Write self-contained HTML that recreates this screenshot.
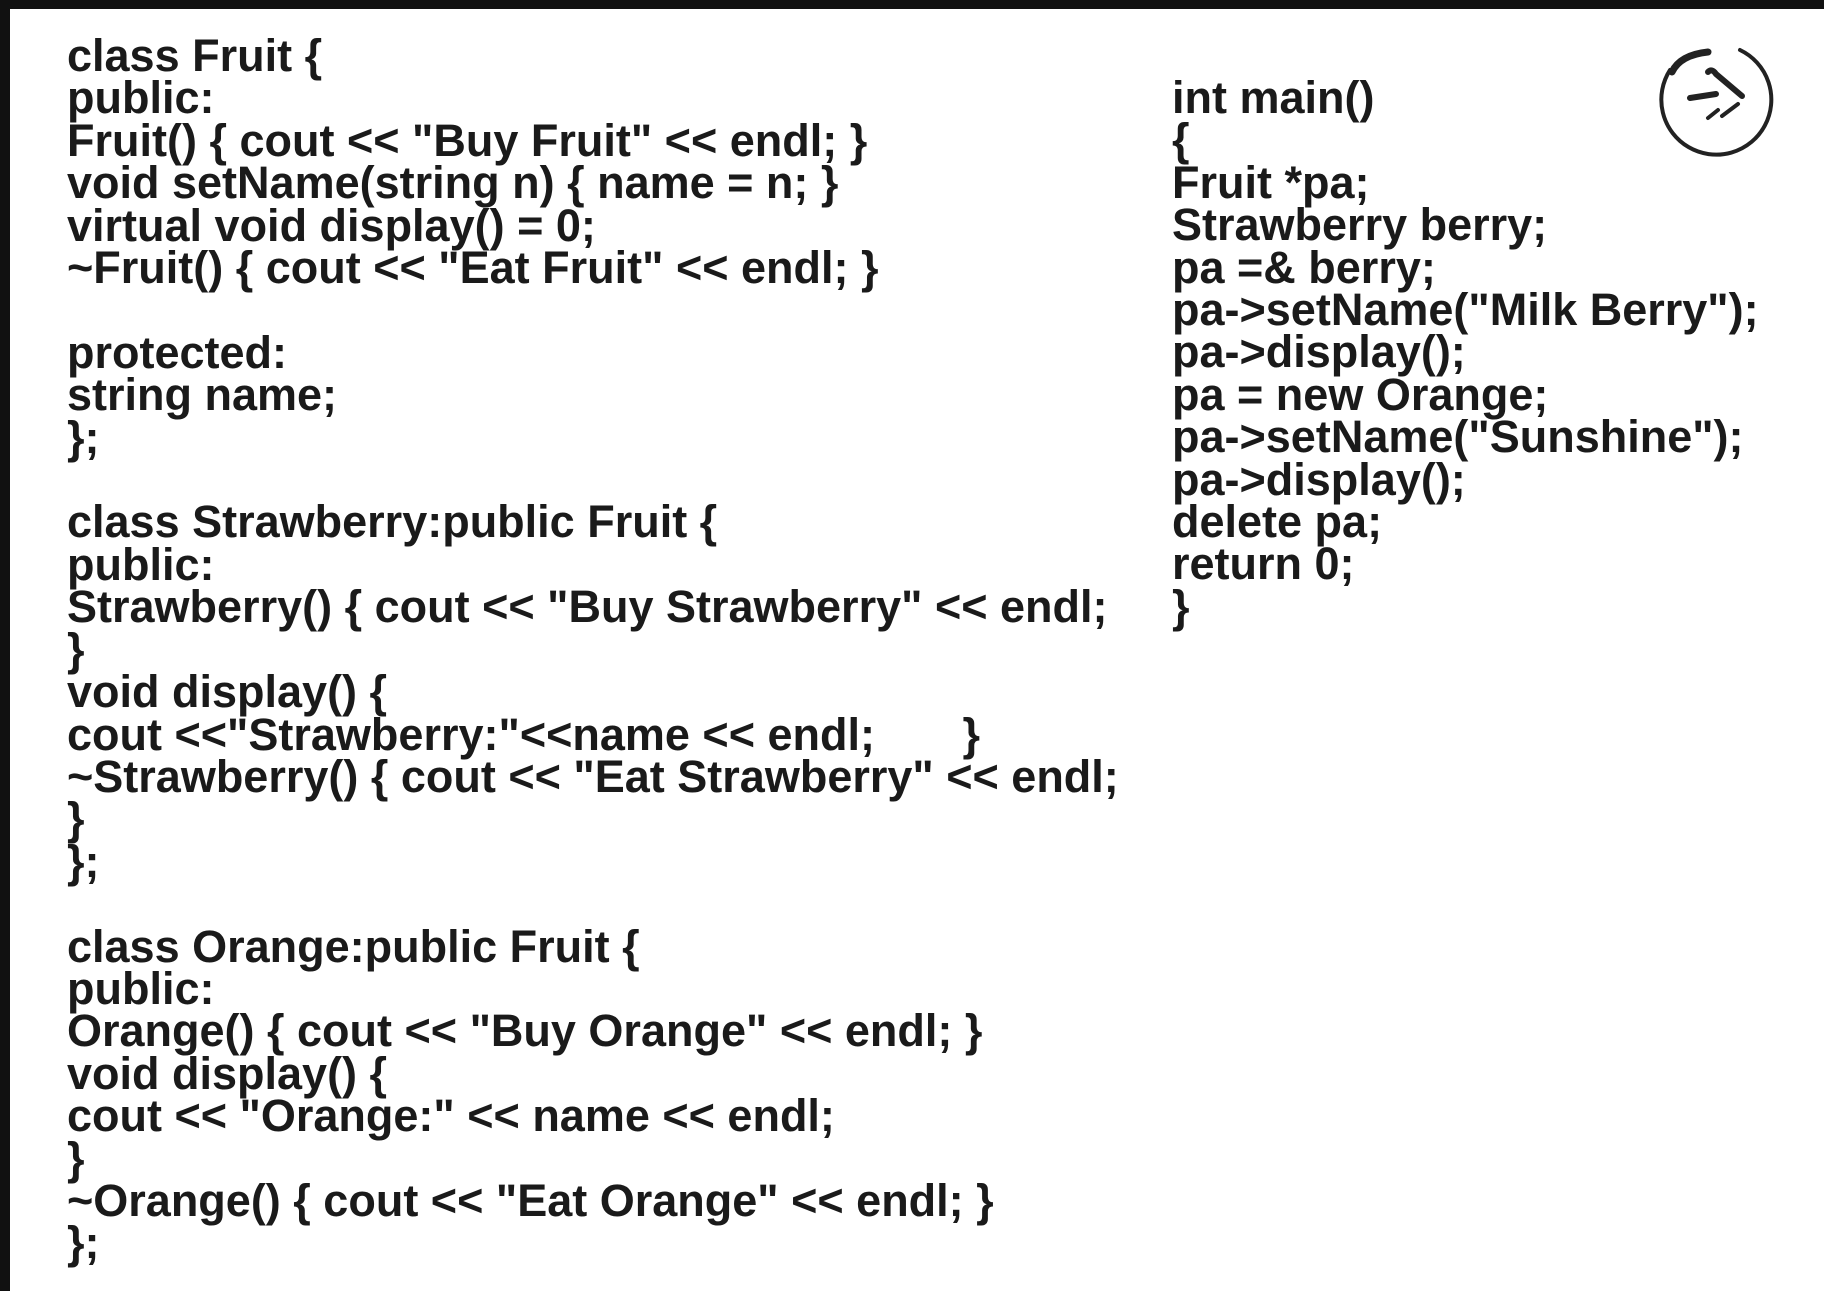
<!DOCTYPE html>
<html><head><meta charset="utf-8"><style>
html,body{margin:0;padding:0;}
body{width:1824px;height:1291px;background:#fff;position:relative;overflow:hidden;}
.bt{position:absolute;left:0;top:0;width:1824px;height:9px;background:#111;}
.bl{position:absolute;left:0;top:0;width:10px;height:1291px;background:#111;}
pre{position:absolute;margin:0;font-family:"Liberation Sans",Arial,sans-serif;font-weight:bold;font-size:45px;line-height:42.4px;color:#1a1a1a;white-space:pre;}
#l{left:67px;top:35px;}
#r{left:1172px;top:77px;}
</style></head><body>
<div class="bt"></div><div class="bl"></div>
<pre id="l">class Fruit {
public:
Fruit() { cout &lt;&lt; "Buy Fruit" &lt;&lt; endl; }
void setName(string n) { name = n; }
virtual void display() = 0;
~Fruit() { cout &lt;&lt; "Eat Fruit" &lt;&lt; endl; }

protected:
string name;
};

class Strawberry:public Fruit {
public:
Strawberry() { cout &lt;&lt; "Buy Strawberry" &lt;&lt; endl;
}
void display() {
cout &lt;&lt;"Strawberry:"&lt;&lt;name &lt;&lt; endl;       }
~Strawberry() { cout &lt;&lt; "Eat Strawberry" &lt;&lt; endl;
}
};

class Orange:public Fruit {
public:
Orange() { cout &lt;&lt; "Buy Orange" &lt;&lt; endl; }
void display() {
cout &lt;&lt; "Orange:" &lt;&lt; name &lt;&lt; endl;
}
~Orange() { cout &lt;&lt; "Eat Orange" &lt;&lt; endl; }
};</pre>
<pre id="r">int main()
{
Fruit *pa;
Strawberry berry;
pa =&amp; berry;
pa-&gt;setName("Milk Berry");
pa-&gt;display();
pa = new Orange;
pa-&gt;setName("Sunshine");
pa-&gt;display();
delete pa;
return 0;
}</pre>
<svg style="position:absolute;left:1650px;top:40px" width="140" height="130" viewBox="0 0 140 130">
<g fill="none" stroke="#222" stroke-linecap="round">
<path d="M90 10 A55 55 0 1 1 20 30" stroke-width="4"/>
<path d="M22 32 Q30 15 58 12" stroke-width="7"/>
<path d="M58 32 Q62 28 66 34 L92 56" stroke-width="6"/>
<path d="M40 58 L66 54" stroke-width="6"/>
<path d="M58 78 L68 70 M72 76 L88 64" stroke-width="4"/>
</g></svg>
</body></html>
